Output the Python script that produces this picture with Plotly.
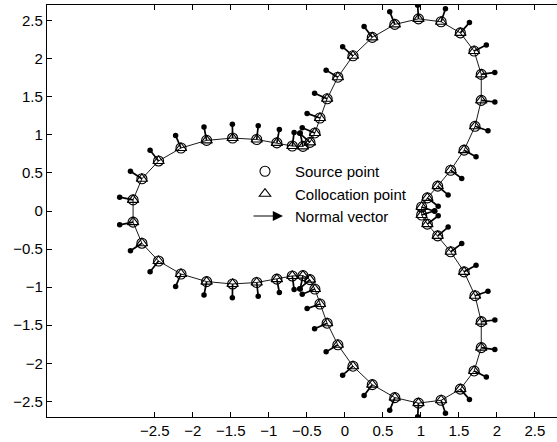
import plotly.graph_objects as go

# Collocation points, counter-clockwise from the right indentation
x_upper = [1.010, 1.085, 1.221, 1.392, 1.568, 1.712, 1.794, 1.794, 1.700, 1.519,
           1.266, 0.968, 0.657, 0.361, 0.107, -0.092, -0.233, -0.327, -0.394, -0.459,
           -0.551, -0.691, -0.894, -1.159, -1.476, -1.818, -2.155, -2.450, -2.669, -2.785]
y_upper = [0.053, 0.172, 0.327, 0.535, 0.799, 1.112, 1.453, 1.794, 2.100, 2.339,
           2.485, 2.523, 2.450, 2.280, 2.038, 1.757, 1.473, 1.221, 1.025, 0.901,
           0.848, 0.853, 0.894, 0.939, 0.958, 0.927, 0.827, 0.657, 0.423, 0.146]
# lower half is the mirror image of the upper half
x_col = x_upper + x_upper[::-1]
y_col = y_upper + [-v for v in y_upper[::-1]]

# Source points coincide with collocation points
x_src = list(x_col)
y_src = list(y_col)

arrow_len = 0.18

x_ticks = [-2.5, -2, -1.5, -1, -0.5, 0, 0.5, 1, 1.5, 2, 2.5]
y_ticks = [-2.5, -2, -1.5, -1, -0.5, 0, 0.5, 1, 1.5, 2, 2.5]

# outward normals from neighbouring boundary points
n = len(x_col)
ax_, ay_, tipx, tipy = [], [], [], []
for i in range(n):
    tx = x_col[(i + 1) % n] - x_col[i - 1]
    ty = y_col[(i + 1) % n] - y_col[i - 1]
    L = (tx * tx + ty * ty) ** 0.5
    nx, ny = ty / L, -tx / L
    ex, ey = x_col[i] + arrow_len * nx, y_col[i] + arrow_len * ny
    ax_ += [x_col[i], ex, None]
    ay_ += [y_col[i], ey, None]
    tipx.append(ex)
    tipy.append(ey)

fig = go.Figure()
fig.add_trace(go.Scatter(x=x_col + [x_col[0]], y=y_col + [y_col[0]], mode="lines",
                         line=dict(color="black", width=0.9), showlegend=False, hoverinfo="skip"))
fig.add_trace(go.Scatter(x=ax_, y=ay_, mode="lines", line=dict(color="black", width=1.7),
                         showlegend=False, hoverinfo="skip"))
fig.add_trace(go.Scatter(x=tipx, y=tipy, mode="markers",
                         marker=dict(symbol="circle", size=5.5, color="black"),
                         showlegend=False, hoverinfo="skip"))
fig.add_trace(go.Scatter(x=x_src, y=y_src, mode="markers", name="Source point",
                         legendgroup="a",
                         marker=dict(symbol="circle-open", size=10, color="black",
                                     line=dict(width=1.1, color="black"))))
fig.add_trace(go.Scatter(x=x_col, y=y_col, mode="markers", name="Collocation point",
                         legendgroup="b",
                         marker=dict(symbol="triangle-up-open", size=10, color="black",
                                     line=dict(width=1.1, color="black"))))
fig.add_trace(go.Scatter(x=[None], y=[None], mode="lines", name="Normal vector",
                         legendgroup="c",
                         line=dict(color="rgba(0,0,0,0)", width=1)))

W, H = 557, 442
ml, mt, mb = 47, 5, 25
pw, ph = W - ml, H - mt - mb

def px_to_paper(px, py):
    return (px - ml) / pw, (H - mb - py) / ph

tx_, ty_ = px_to_paper(283, 216)
fig.add_annotation(x=tx_, y=ty_, xref="paper", yref="paper", text="", showarrow=True,
                   ax=-31, ay=0, arrowhead=2, arrowsize=1.7, arrowwidth=1.2,
                   arrowcolor="black")

lx, ly = px_to_paper(235, 155)
fig.update_layout(
    width=W, height=H,
    margin=dict(l=ml, r=0, t=mt, b=mb, pad=0),
    paper_bgcolor="white", plot_bgcolor="white",
    font=dict(family="Arial, Liberation Sans, sans-serif", size=15, color="black"),
    showlegend=True,
    legend=dict(x=lx, y=ly, xanchor="left", yanchor="top", bgcolor="rgba(0,0,0,0)",
                borderwidth=0, itemwidth=50, tracegroupgap=3,
                font=dict(size=15), traceorder="normal"),
    xaxis=dict(range=[-3.917, 2.79], tickvals=x_ticks, ticktext=[("%g" % v).replace("-", "\u2212") for v in x_ticks],
               ticks="inside", ticklen=5, tickwidth=1, tickcolor="black",
               showline=True, linecolor="black", linewidth=1.3, mirror="ticks",
               showgrid=False, zeroline=False, tickfont=dict(size=15)),
    yaxis=dict(range=[-2.705, 2.705], tickvals=y_ticks, ticktext=[("%g" % v).replace("-", "\u2212") for v in y_ticks],
               ticks="inside", ticklen=5, tickwidth=1, tickcolor="black",
               showline=True, linecolor="black", linewidth=1.3, mirror=False,
               showgrid=False, zeroline=False, tickfont=dict(size=15)),
)

fig.write_html("out.html")
